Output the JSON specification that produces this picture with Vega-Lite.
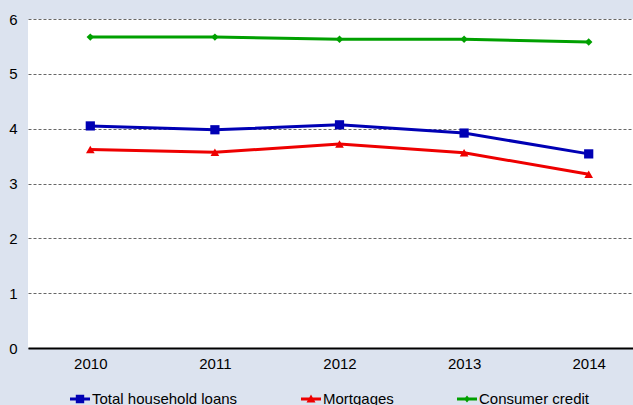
{
  "$schema": "https://vega.github.io/schema/vega-lite/v6.json",
  "autosize": "none",
  "padding": {"left": 28, "top": 19, "right": 0, "bottom": 57},
  "width": 623,
  "height": 329,
  "background": "#dce3ef",
  "config": {
    "view": {"fill": "white", "stroke": null},
    "font": "Liberation Sans",
    "axis": {"labelFont": "Liberation Sans", "labelFontSize": 15, "labelColor": "black", "ticks": false, "title": null}
  },
  "data": {
    "values": [
      {"year": "2010", "series": "Total household loans", "value": 4.05},
      {"year": "2011", "series": "Total household loans", "value": 3.98},
      {"year": "2012", "series": "Total household loans", "value": 4.07},
      {"year": "2013", "series": "Total household loans", "value": 3.92},
      {"year": "2014", "series": "Total household loans", "value": 3.54},
      {"year": "2010", "series": "Mortgages", "value": 3.62},
      {"year": "2011", "series": "Mortgages", "value": 3.57},
      {"year": "2012", "series": "Mortgages", "value": 3.72},
      {"year": "2013", "series": "Mortgages", "value": 3.56},
      {"year": "2014", "series": "Mortgages", "value": 3.17},
      {"year": "2010", "series": "Consumer credit", "value": 5.67},
      {"year": "2011", "series": "Consumer credit", "value": 5.67},
      {"year": "2012", "series": "Consumer credit", "value": 5.63},
      {"year": "2013", "series": "Consumer credit", "value": 5.63},
      {"year": "2014", "series": "Consumer credit", "value": 5.58}
    ]
  },
  "encoding": {
    "x": {
      "field": "year", "type": "ordinal",
      "axis": {"labelAngle": 0, "domainColor": "black", "domainWidth": 2, "labelPadding": 8}
    },
    "y": {
      "field": "value", "type": "quantitative",
      "scale": {"domain": [0, 6], "nice": false},
      "axis": {"values": [0, 1, 2, 3, 4, 5, 6], "domain": false, "grid": true, "gridColor": "#666666", "gridDash": [3, 2], "gridWidth": 1, "labelPadding": 11}
    },
    "color": {
      "field": "series", "type": "nominal",
      "scale": {"domain": ["Total household loans", "Mortgages", "Consumer credit"], "range": ["#0000b4", "#ee0000", "#00a000"]},
      "legend": {
        "title": null,
        "orient": "none",
        "direction": "horizontal",
        "legendX": 42,
        "legendY": 370,
        "columns": 3,
        "columnPadding": 63,
        "labelFont": "Liberation Sans",
        "labelFontSize": 15,
        "labelColor": "black",
        "labelOffset": 2,
        "symbolSize": 400,
        "encode": {
          "symbols": {
            "update": {
              "shape": {"signal": "datum.value === 'Total household loans' ? 'M-1,-0.15H1V0.15H-1Z M-0.42,-0.42H0.42V0.42H-0.42Z' : datum.value === 'Mortgages' ? 'M-1,-0.15H1V0.15H-1Z M0,-0.45L0.45,0.35H-0.45Z' : 'M-1,-0.15H1V0.15H-1Z M0,-0.35L0.3,0L0,0.35L-0.3,0Z'"},
              "fill": {"signal": "datum.value === 'Total household loans' ? '#0000b4' : datum.value === 'Mortgages' ? '#ee0000' : '#00a000'"},
              "strokeWidth": {"value": 0},
              "size": {"value": 400},
              "opacity": {"value": 1}
            }
          }
        }
      }
    }
  },
  "layer": [
    {"mark": {"type": "line", "strokeWidth": 3}},
    {
      "transform": [{"filter": "datum.series === 'Total household loans'"}],
      "mark": {"type": "point", "filled": true, "opacity": 1, "shape": "square", "size": 85}
    },
    {
      "transform": [{"filter": "datum.series === 'Mortgages'"}],
      "mark": {"type": "point", "filled": true, "opacity": 1, "shape": "triangle-up", "size": 75}
    },
    {
      "transform": [{"filter": "datum.series === 'Consumer credit'"}],
      "mark": {"type": "point", "filled": true, "opacity": 1, "shape": "diamond", "size": 55}
    }
  ]
}
